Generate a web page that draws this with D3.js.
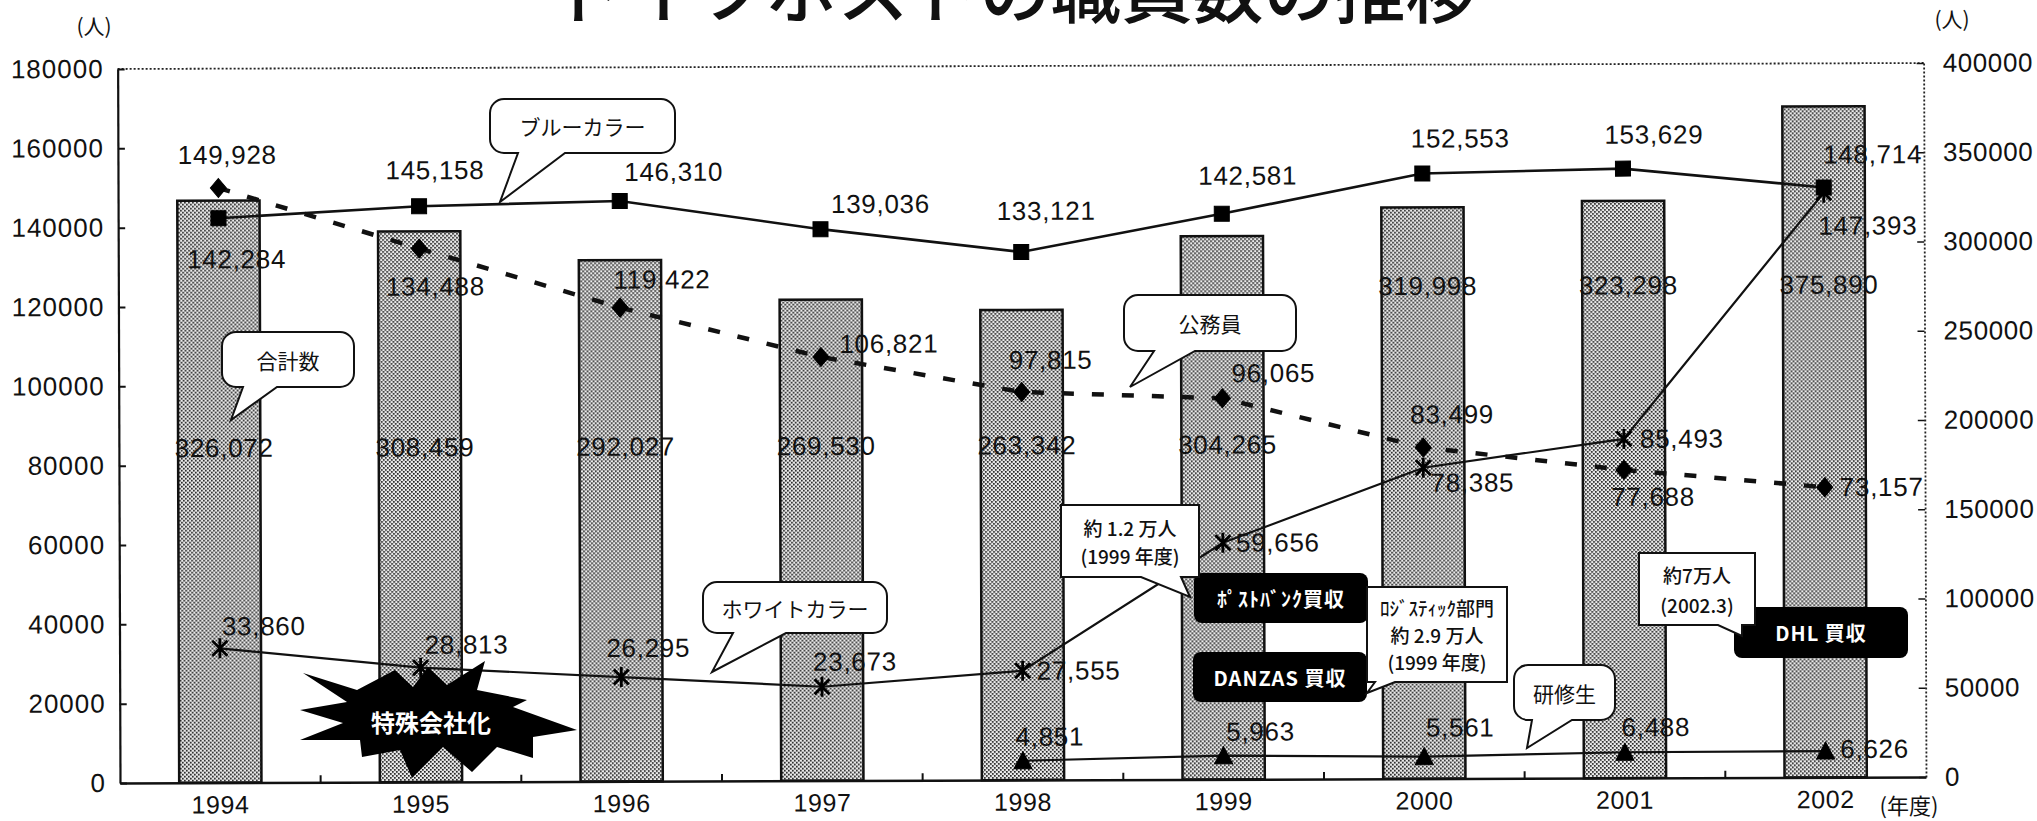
<!DOCTYPE html>
<html>
<head>
<meta charset="utf-8">
<script src="https://cdn.jsdelivr.net/npm/d3@7"></script>
<style>
  body { margin: 0; background: #fff; }
  svg { display: block; }
  .num { font-family: "Liberation Sans", Arial, sans-serif; }
  .jp { font-family: "Noto Sans CJK JP", sans-serif; }
</style>
</head>
<body>
<svg id="chart"></svg>
<script>
// Dades del gràfic
var years = ["1994", "1995", "1996", "1997", "1998", "1999", "2000", "2001", "2002"];
var totals = [326072, 308459, 292027, 269530, 263342, 304265, 319998, 323298, 375890];
var blueCollar = [142284, 145158, 146310, 139036, 133121, 142581, 152553, 153629, 148714];
var civilServants = [149928, 134488, 119422, 106821, 97815, 96065, 83499, 77688, 73157];
var whiteCollar = [33860, 28813, 26295, 23673, 27555, 59656, 78385, 85493, 147393];
var traineeYears = ["1998", "1999", "2000", "2001", "2002"];
var trainees = [4851, 5963, 5561, 6488, 6626];
var leftTicks = [0, 20000, 40000, 60000, 80000, 100000, 120000, 140000, 160000, 180000];
var rightTicks = [0, 50000, 100000, 150000, 200000, 250000, 300000, 350000, 400000];

// Desplaçaments de les etiquetes respecte al marcador (maquetació)
var civilOff = [[9, -33], [16, 38], [42, -28], [68, -13], [29, -32], [51, -25], [29, -33], [29, 27], [57, 0]];
var blueOff = [[18, 41], [16, -36], [54, -29], [60, -25], [25, -41], [26, -38], [38, -35], [31, -34], [49, -33]];
var whiteOff = [[44, -22], [46, -23], [27, -29], [33, -25], [56, 0], [55, 0], [49, 15], [58, 0], [44, 33]];
var traineeOff = [[27, -24], [37, -24], [36, -29], [31, -25], [49, -2]];

var width = 2037, height = 821;
var plotLeft = 120, plotRight = 1926, plotTop = 69, plotBase = 783;

var svg = d3.select("#chart").attr("width", width).attr("height", height);

// Trama de punts de les barres
var defs = svg.append("defs");
var pat = defs.append("pattern").attr("id", "dots")
  .attr("width", 4).attr("height", 4).attr("patternUnits", "userSpaceOnUse");
pat.append("rect").attr("width", 4).attr("height", 4).attr("fill", "#ececec");
pat.append("rect").attr("x", 0).attr("y", 0).attr("width", 1.7).attr("height", 1.7).attr("fill", "#1e1e1e");
pat.append("rect").attr("x", 2).attr("y", 2).attr("width", 1.7).attr("height", 1.7).attr("fill", "#1e1e1e");

// Escales
var x = d3.scaleBand().domain(years).range([plotLeft, plotRight]).paddingInner(0.59).paddingOuter(0.295);
var yL = d3.scaleLinear().domain([0, 180000]).range([plotBase, plotTop]);
var yR = d3.scaleLinear().domain([0, 400000]).range([plotBase, plotTop]);
var cx = function(d) { return x(d) + x.bandwidth() / 2; };

// El full escanejat està lleugerament girat
var g = svg.append("g").attr("transform", "rotate(-0.19," + plotLeft + "," + plotBase + ")");

// Barres (eix dret)
g.selectAll(".bar").data(years).join("rect")
  .attr("class", "bar")
  .attr("x", function(d) { return x(d); })
  .attr("width", x.bandwidth())
  .attr("y", function(d, i) { return yR(totals[i]); })
  .attr("height", function(d, i) { return yR(0) - yR(totals[i]); })
  .attr("fill", "url(#dots)")
  .attr("stroke", "#111")
  .attr("stroke-width", 2.5);

// Marc superior puntejat
g.append("line").attr("x1", plotLeft).attr("x2", plotRight).attr("y1", plotTop).attr("y2", plotTop)
  .attr("stroke", "#222").attr("stroke-width", 1.8).attr("stroke-dasharray", "2,2");

// Eix esquerre
var axL = g.append("g").attr("transform", "translate(" + plotLeft + ",0)")
  .call(d3.axisLeft(yL).tickValues(leftTicks).tickFormat(d3.format("d"))
    .tickSize(-7).tickSizeOuter(0).tickPadding(14));
axL.select(".domain").attr("stroke", "#111").attr("stroke-width", 2.2);
axL.selectAll(".tick line").attr("stroke", "#111").attr("stroke-width", 2);
axL.selectAll("text").attr("class", "num").attr("font-size", 26)
  .attr("letter-spacing", 1).attr("fill", "#111");

// Eix dret
var axR = g.append("g").attr("transform", "translate(" + plotRight + ",0)")
  .call(d3.axisRight(yR).tickValues(rightTicks).tickFormat(d3.format("d"))
    .tickSize(-7).tickSizeOuter(0).tickPadding(19));
axR.select(".domain").attr("stroke", "#222").attr("stroke-width", 1.8).attr("stroke-dasharray", "2,2");
axR.selectAll(".tick line").attr("stroke", "#111").attr("stroke-width", 1.5);
axR.selectAll("text").attr("class", "num").attr("font-size", 26)
  .attr("letter-spacing", 0.6).attr("fill", "#111");

// Eix inferior
var axB = g.append("g").attr("transform", "translate(0," + plotBase + ")")
  .call(d3.axisBottom(x).tickSize(0).tickSizeOuter(0).tickPadding(13));
axB.select(".domain").attr("stroke", "#111").attr("stroke-width", 2.5);
axB.selectAll("text").attr("class", "num").attr("font-size", 25)
  .attr("letter-spacing", 0.6).attr("fill", "#111");
g.selectAll(".btick").data(years.slice(1)).join("line")
  .attr("class", "btick")
  .attr("x1", function(d) { return x(d) - x.step() * x.paddingInner() / 2; })
  .attr("x2", function(d) { return x(d) - x.step() * x.paddingInner() / 2; })
  .attr("y1", plotBase).attr("y2", plotBase - 7)
  .attr("stroke", "#111").attr("stroke-width", 2);

// Línies
function drawLine(cats, vals, w, dash) {
  var line = d3.line()
    .x(function(d, i) { return cx(cats[i]); })
    .y(function(d) { return yL(d); });
  g.append("path").datum(vals)
    .attr("d", line)
    .attr("fill", "none")
    .attr("stroke", "#111")
    .attr("stroke-width", w)
    .attr("stroke-dasharray", dash || null);
}
drawLine(years, civilServants, 4.5, "12,18");
drawLine(years, blueCollar, 2.6);
drawLine(years, whiteCollar, 2.2);
drawLine(traineeYears, trainees, 2.2);

// Marcadors
function drawMarkers(cats, vals, shape, filled) {
  g.append("g").selectAll("path").data(vals).join("path")
    .attr("transform", function(d, i) { return "translate(" + cx(cats[i]) + "," + yL(d) + ")"; })
    .attr("d", shape)
    .attr("fill", filled ? "#000" : "none")
    .attr("stroke", "#000")
    .attr("stroke-width", filled ? 1 : 2.8);
}
drawMarkers(years, civilServants, "M0,-9.5L8,0L0,9.5L-8,0Z", true);
drawMarkers(years, blueCollar, "M-7.5,-7.5H7.5V7.5H-7.5Z", true);
drawMarkers(years, whiteCollar, "M-7.5,-7.5L7.5,7.5M7.5,-7.5L-7.5,7.5M0,-10V10", false);
drawMarkers(traineeYears, trainees, "M0,-9L9,8H-9Z", true);

// Etiquetes de valors
var fmt = d3.format(",");
function drawLabels(cats, vals, off) {
  g.append("g").selectAll("text").data(vals).join("text")
    .attr("class", "num")
    .attr("x", function(d, i) { return cx(cats[i]) + off[i][0]; })
    .attr("y", function(d, i) { return yL(d) + off[i][1]; })
    .attr("text-anchor", "middle")
    .attr("dominant-baseline", "central")
    .attr("font-size", 26)
    .attr("letter-spacing", 0.7)
    .attr("fill", "#111")
    .text(function(d) { return fmt(d); });
}
drawLabels(years, civilServants, civilOff);
drawLabels(years, blueCollar, blueOff);
drawLabels(years, whiteCollar, whiteOff);
drawLabels(traineeYears, trainees, traineeOff);

// Etiquetes del total dins de les barres
g.append("g").selectAll("text").data(totals).join("text")
  .attr("class", "num")
  .attr("x", function(d, i) { return cx(years[i]) + 5; })
  .attr("y", function(d, i) { return yR(i < 6 ? 187500 : 276000); })
  .attr("text-anchor", "middle")
  .attr("dominant-baseline", "central")
  .attr("font-size", 26)
  .attr("letter-spacing", 0.7)
  .attr("fill", "#111")
  .text(function(d) { return fmt(d); });

// Títol i unitats
svg.append("text").attr("class", "jp")
  .attr("x", 1015).attr("y", 17)
  .attr("text-anchor", "middle")
  .attr("font-size", 71).attr("font-weight", 500).attr("fill", "#111")
  .text("ドイツポストの職員数の推移");
svg.append("text").attr("class", "jp").attr("x", 94).attr("y", 25)
  .attr("text-anchor", "middle").attr("dominant-baseline", "central")
  .attr("font-size", 21).attr("fill", "#111").text("(人)");
svg.append("text").attr("class", "jp").attr("x", 1952).attr("y", 18)
  .attr("text-anchor", "middle").attr("dominant-baseline", "central")
  .attr("font-size", 21).attr("fill", "#111").text("(人)");
svg.append("text").attr("class", "jp").attr("x", 1909).attr("y", 804)
  .attr("text-anchor", "middle").attr("dominant-baseline", "central")
  .attr("font-size", 22).attr("fill", "#111").text("(年度)");

// Bafarades i quadres
function bubble(b) {
  var x0 = b.x, y0 = b.y, x1 = b.x + b.w, y1 = b.y + b.h, r = b.r;
  var p = d3.path();
  p.moveTo(x0 + r, y0);
  p.lineTo(x1 - r, y0); p.arcTo(x1, y0, x1, y0 + r, r);
  p.lineTo(x1, y1 - r); p.arcTo(x1, y1, x1 - r, y1, r);
  if (b.tail) {
    p.lineTo(b.tail[1], y1); p.lineTo(b.tail[2], b.tail[3]); p.lineTo(b.tail[0], y1);
  }
  p.lineTo(x0 + r, y1); p.arcTo(x0, y1, x0, y1 - r, r);
  p.lineTo(x0, y0 + r); p.arcTo(x0, y0, x0 + r, y0, r);
  p.closePath();
  return p.toString();
}

var tags = [
  {text: "ﾎﾟｽﾄﾊﾞﾝｸ買収", x: 1194, y: 573, w: 174, h: 50, r: 8},
  {text: "DANZAS 買収", x: 1193, y: 652, w: 174, h: 50, r: 8},
  {text: "DHL 買収", x: 1734, y: 607, w: 174, h: 51, r: 8}
];
tags.forEach(function(t) {
  svg.append("path").attr("d", bubble(t)).attr("fill", "#000");
  svg.append("text").attr("class", "jp")
    .attr("x", t.x + t.w / 2).attr("y", t.y + t.h / 2)
    .attr("text-anchor", "middle").attr("dominant-baseline", "central")
    .attr("font-size", 20).attr("font-weight", 700).attr("fill", "#fff")
    .attr("letter-spacing", 1)
    .text(t.text);
});

var callouts = [
  {text: ["ブルーカラー"], x: 490, y: 99, w: 185, h: 54, r: 14, tail: [518, 565, 500, 202], fs: 21},
  {text: ["合計数"], x: 222, y: 332, w: 132, h: 55, r: 14, tail: [243, 277, 231, 420], fs: 21},
  {text: ["公務員"], x: 1124, y: 295, w: 172, h: 56, r: 14, tail: [1154, 1195, 1130, 387], fs: 21},
  {text: ["ホワイトカラー"], x: 703, y: 582, w: 184, h: 51, r: 14, tail: [733, 786, 712, 672], fs: 21},
  {text: ["研修生"], x: 1514, y: 665, w: 101, h: 55, r: 14, tail: [1532, 1572, 1527, 748], fs: 21},
  {text: ["約 1.2 万人", "(1999 年度)"], x: 1061, y: 505, w: 138, h: 72, r: 0, tail: [1141, 1181, 1190, 597], fs: 19, lh: 28},
  {text: ["ﾛｼﾞｽﾃｨｯｸ部門", "約 2.9 万人", "(1999 年度)"], x: 1367, y: 587, w: 140, h: 95, r: 0, tail: [1375, 1395, 1367, 693], fs: 19, lh: 27},
  {text: ["約7万人", "(2002.3)"], x: 1639, y: 553, w: 116, h: 72, r: 0, tail: [1718, 1742, 1742, 636], fs: 19, lh: 30}
];
callouts.forEach(function(c) {
  svg.append("path").attr("d", bubble(c))
    .attr("fill", "#fff").attr("stroke", "#111").attr("stroke-width", 2);
  var n = c.text.length;
  c.text.forEach(function(s, k) {
    svg.append("text").attr("class", "jp")
      .attr("x", c.x + c.w / 2)
      .attr("y", c.y + c.h / 2 + (k - (n - 1) / 2) * (c.lh || 0))
      .attr("text-anchor", "middle").attr("dominant-baseline", "central")
      .attr("font-size", c.fs).attr("font-weight", c.r ? 400 : 500).attr("fill", "#111")
      .text(s);
  });
});

// Estrella "特殊会社化"
var burst = [[-135, -47], [-81, -30], [-43, -50], [-25, -33], [-10, -53], [9, -35], [47, -59], [39, -30],
  [89, -20], [75, -13], [139, 10], [95, 17], [95, 38], [59, 27], [34, 52], [5, 27], [-26, 58], [-38, 30],
  [-76, 37], [-78, 20], [-138, 20], [-95, 3], [-138, -10], [-91, -18]];
svg.append("path")
  .attr("transform", "translate(438,720)")
  .attr("d", "M" + burst.map(function(p) { return p.join(","); }).join("L") + "Z")
  .attr("fill", "#000");
svg.append("text").attr("class", "jp")
  .attr("x", 431).attr("y", 721)
  .attr("text-anchor", "middle").attr("dominant-baseline", "central")
  .attr("font-size", 24).attr("font-weight", 700).attr("fill", "#fff")
  .text("特殊会社化");
</script>
</body>
</html>
